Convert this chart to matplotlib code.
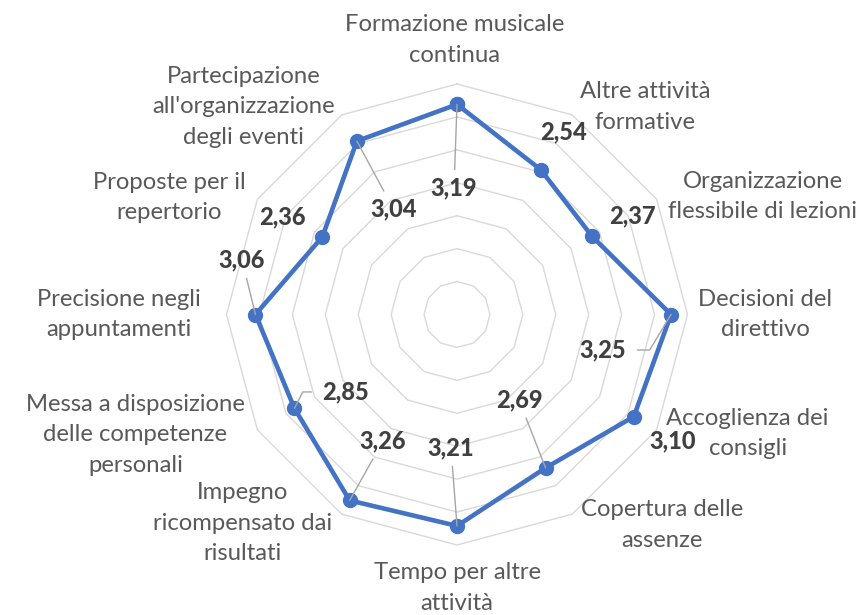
import numpy as np
import matplotlib
matplotlib.use("Agg")
import matplotlib.pyplot as plt

categories = [
    "Formazione musicale\ncontinua",
    "Altre attività\nformative",
    "Organizzazione\nflessibile di lezioni",
    "Decisioni del\ndirettivo",
    "Accoglienza dei\nconsigli",
    "Copertura delle\nassenze",
    "Tempo per altre\nattività",
    "Impegno\nricompensato dai\nrisultati",
    "Messa a disposizione\ndelle competenze\npersonali",
    "Precisione negli\nappuntamenti",
    "Proposte per il\nrepertorio",
    "Partecipazione\nall'organizzazione\ndegli eventi",
]
values = [3.19, 2.54, 2.37, 3.25, 3.10, 2.69, 3.21, 3.26, 2.85, 3.06, 2.36, 3.04]
value_labels = ["3,19", "2,54", "2,37", "3,25", "3,10", "2,69", "3,21", "3,26", "2,85", "3,06", "2,36", "3,04"]
rmax = 3.5
rings = [0.5, 1.0, 1.5, 2.0, 2.5, 3.0, 3.5]

# layout (pixel offsets, converted to points at dpi 100)
cat_off = [(-2, -44), (73, -8), (106, -3), (78, 0), (91, 4), (90, 11),
           (0, 43), (-99, 9), (-122, 5), (-108, 0), (-88, -2), (-98, -8)]
val_off = [(-3, 83.6), (22.4, -37.6), (39.8, -20.5), (-68, 35.5), (39.2, 24.4), (-26.6, -68),
           (-6, -78), (33.3, -59.4), (51.5, -16.4), (-13.5, -54.5), (-40.4, -20.2), (36.6, 67.9)]
leader = [True, False, False, True, False, True, True, True, True, True, False, True]

FONT = "Lato"
fig = plt.figure(figsize=(8.64, 6.15), dpi=100)
cx, cy, R = 457, 314.5, 230.5
ax = fig.add_axes([(cx - R) / 864, (615 - cy - R) / 615, 2 * R / 864, 2 * R / 615], projection="polar")
ax.set_theta_offset(np.pi / 2)
ax.set_theta_direction(-1)
ax.set_ylim(0, rmax)
ax.set_xticks([])
ax.set_yticks([])
ax.grid(False)
ax.spines["polar"].set_visible(False)
ax.patch.set_visible(False)

n = len(categories)
theta = np.arange(n) * 2 * np.pi / n
tc = np.append(theta, theta[0])

for r in rings:
    ax.plot(tc, [r] * (n + 1), color="#D9D9D9", lw=1.0, clip_on=False, zorder=1)

vc = values + [values[0]]
ax.plot(tc, vc, color="#4472C4", lw=3.3, marker="o", ms=10, clip_on=False, zorder=3,
        solid_joinstyle="round")

k = 0.72
for i in range(n):
    dx, dy = cat_off[i]
    ax.annotate(categories[i], xy=(theta[i], rmax), xytext=(dx * k, -dy * k), textcoords="offset points",
                ha="center", va="center", multialignment="center", fontsize=17.2, color="#595959",
                family=FONT, linespacing=1.55, annotation_clip=False)

for i in range(n):
    dx, dy = val_off[i]
    kw = dict(xy=(theta[i], values[i]), xytext=(dx * k, -dy * k), textcoords="offset points",
              ha="center", va="center", fontsize=17, fontweight="black", color="#404040",
              family=FONT, annotation_clip=False, zorder=5)
    if leader[i]:
        ap = dict(arrowstyle="-", color="#A6A6A6", lw=1.0, shrinkA=3, shrinkB=0)
        if i == 3:
            ap.update(relpos=(1.0, 0.5), connectionstyle="angle,angleA=0,angleB=59,rad=0", shrinkA=6)
        if i == 8:
            ap.update(relpos=(0.0, 0.5), connectionstyle="angle,angleA=0,angleB=63,rad=0", shrinkA=6)
        kw["arrowprops"] = ap
    ax.annotate(value_labels[i], **kw)

fig.savefig("out.png", dpi=100)
